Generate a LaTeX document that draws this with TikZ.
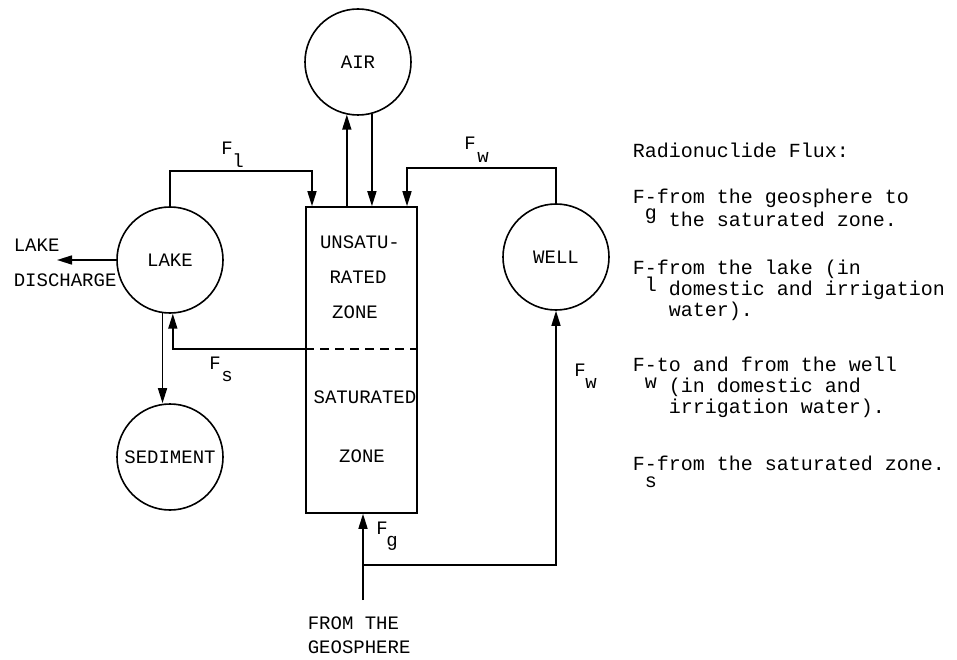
\documentclass[tikz,border=0pt]{standalone}
\usepackage{fontspec}
\setmonofont{Liberation Mono}
\usetikzlibrary{arrows.meta,calc}
\begin{document}
\begin{tikzpicture}[x=1pt,y=-1pt,
  line width=1.6pt,
  pool/.style={circle, draw, line width=1.6pt, minimum size=106pt, inner sep=0pt,
    font=\ttfamily\fontsize{19}{22}\selectfont},
  lbl/.style={font=\ttfamily\fontsize{19}{22}\selectfont, inner sep=0pt},
  leg/.style={font=\ttfamily\fontsize{20}{24}\selectfont, inner sep=0pt, anchor=base west},
  arr/.style={-{Triangle[length=15pt,width=9pt]}},
  zonebox/.style={draw, line width=1.6pt, minimum width=111pt, minimum height=306pt, inner sep=0pt},
  ]
\path[fill=white,use as bounding box] (0,0) rectangle (957,660);

% pools
\node[pool] (air) at (358,62) {AIR};
\node[pool] (lake) at (170,260) {LAKE};
\node[pool] (well) at (556,257) {WELL};
\node[pool] (sed) at (170,457) {SEDIMENT};
\node[zonebox] (box) at (361.5,360) {};

% dashed divider
\coordinate (dl) at (0,349);
\draw[dashed, dash pattern=on 9pt off 6pt] (box.west |- dl) -- (box.east |- dl);

% box texts
\node[lbl] (u1) at (360,242) {UNSATU-};
\node[lbl] (u2) at (358,277) {RATED};
\node[lbl] (u3) at (355,312) {ZONE};
\node[lbl] (s1) at (365,397) {SATURATED};
\node[lbl] (s2) at (362,456) {ZONE};

% lake discharge
\node[lbl, anchor=west] (ld1) at (13,245) {LAKE};
\node[lbl, anchor=west] (ld2) at (13,280) {DISCHARGE};
\coordinate (ldend) at (57,262);
\draw[arr] (lake.west) -- (lake.west -| ldend);

% F_l
\coordinate (fl) at (312,171);
\draw[arr] (lake.north) -- (lake.north |- fl) -- (fl) -- (fl |- box.north);
\node[lbl] (Fl) at (227,148) {F};
\node[lbl] (Fls) at (238,161) {l};

% air exchange
\draw[arr] (box.north -| air.258) -- (air.258);
\draw[arr] (air.285) -- (box.north -| air.285);

% F_w (well to zone)
\coordinate (fw) at (407,168);
\draw[arr] (well.north) -- (well.north |- fw) -- (fw) -- (fw |- box.north);
\node[lbl] (Fw1) at (470,143) {F};
\node[lbl] (Fw1s) at (483,157) {w};

% sediment
\draw[arr] (lake.262) -- (lake.262 |- sed.north);

% F_s
\draw[arr] (box.west |- dl) -- (lake.273 |- dl) -- (lake.273);
\node[lbl] (Fs) at (215,363) {F};
\node[lbl] (Fss) at (227,376) {s};

% geosphere
\node[lbl, anchor=west] (g1) at (307,623) {FROM THE};
\node[lbl, anchor=west] (g2) at (307,647) {GEOSPHERE};
\coordinate (geo) at (363,600);
\coordinate (jn) at (363,565);
\draw[arr] (geo) -- (geo |- box.south);
\draw[arr] (jn) -- (jn -| well.south) -- (well.south);
\node[lbl] (Fg) at (382,528) {F};
\node[lbl] (Fgs) at (392,543) {g};
\node[lbl] (Fw2) at (580,370) {F};
\node[lbl] (Fw2s) at (591,383) {w};

% legend
\node[leg] (t0) at (632,158) {Radionuclide Flux:};
\node[leg] (t1) at (632,204) {F-from the geosphere to};
\node[leg] (t1s) at (644,220) {g};
\node[leg] (t1b) at (668,226) {the saturated zone.};
\node[leg] (t2) at (632,274) {F-from the lake (in};
\node[leg] (t2s) at (644,291) {l};
\node[leg] (t2b) at (668,295) {domestic and irrigation};
\node[leg] (t2c) at (668,316) {water).};
\node[leg] (t3) at (632,371) {F-to and from the well};
\node[leg] (t3s) at (644,388) {w};
\node[leg] (t3b) at (668,392) {(in domestic and};
\node[leg] (t3c) at (668,413) {irrigation water).};
\node[leg] (t4) at (632,470) {F-from the saturated zone.};
\node[leg] (t4s) at (644,487) {s};
\end{tikzpicture}
\end{document}
